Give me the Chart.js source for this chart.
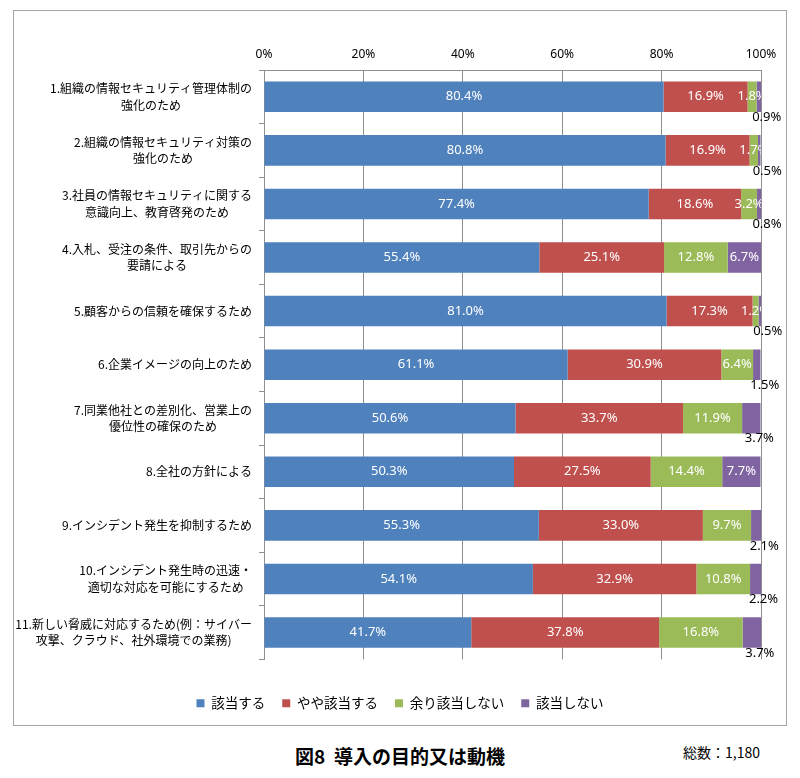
<!DOCTYPE html>
<html><head><meta charset="utf-8">
<script src="https://cdn.jsdelivr.net/npm/chart.js@4.4.0/dist/chart.umd.min.js"></script>
<style>
body{margin:0;background:#fff;width:800px;height:778px;position:relative;overflow:hidden;font-family:"Noto Sans CJK JP",sans-serif;}
#frame{position:absolute;left:13px;top:10px;width:774px;height:716px;box-sizing:border-box;border:1px solid #a6a6a6;}
#c{position:absolute;left:14px;top:11px;}
#title{position:absolute;left:0;width:800px;top:744px;text-align:center;font-weight:bold;font-size:19px;line-height:24px;color:#000;white-space:pre;}
#total{position:absolute;left:683px;top:742px;font-size:14px;line-height:20px;color:#000;}
</style>
</head><body>
<div id="frame"></div>
<canvas id="c" width="772" height="714"></canvas>
<div id="title">図8  導入の目的又は動機</div>
<div id="total">総数：1,180</div>
<script>
const categories = [
  ['1.組織の情報セキュリティ管理体制の','強化のため'],
  ['2.組織の情報セキュリティ対策の','強化のため'],
  ['3.社員の情報セキュリティに関する','意識向上、教育啓発のため'],
  ['4.入札、受注の条件、取引先からの','要請による'],
  ['5.顧客からの信頼を確保するため'],
  ['6.企業イメージの向上のため'],
  ['7.同業他社との差別化、営業上の','優位性の確保のため'],
  ['8.全社の方針による'],
  ['9.インシデント発生を抑制するため'],
  ['10.インシデント発生時の迅速・','適切な対応を可能にするため'],
  ['11.新しい脅威に対応するため(例：サイバー','攻撃、クラウド、社外環境での業務)']
];
const seriesNames = ['該当する','やや該当する','余り該当しない','該当しない'];
const applicable         = [80.4,80.8,77.4,55.4,81.0,61.1,50.6,50.3,55.3,54.1,41.7];
const somewhatApplicable = [16.9,16.9,18.6,25.1,17.3,30.9,33.7,27.5,33.0,32.9,37.8];
const rarelyApplicable   = [1.8,1.7,3.2,12.8,1.2,6.4,11.9,14.4,9.7,10.8,16.8];
const notApplicable      = [0.9,0.5,0.8,6.7,0.5,1.5,3.7,7.7,2.1,2.2,3.7];
const xTickValues = [0,20,40,60,80,100];
const seriesColors = ['#4F81BD','#C0504D','#9BBB59','#8064A2'];
const seriesValues = [applicable, somewhatApplicable, rarelyApplicable, notApplicable];

const labelPlugin = {
  id: 'segLabels',
  afterDatasetsDraw(chart) {
    const ctx = chart.ctx, area = chart.chartArea;
    ctx.save();
    ctx.font = '13px "Noto Sans", sans-serif';
    ctx.textAlign = 'center';
    ctx.textBaseline = 'middle';
    const outside = [];
    ctx.save();
    ctx.beginPath();
    ctx.rect(area.left, area.top, area.right - area.left, area.bottom - area.top);
    ctx.clip();
    chart.data.datasets.forEach((ds, di) => {
      const meta = chart.getDatasetMeta(di);
      meta.data.forEach((bar, i) => {
        const v = ds.data[i];
        const txt = v.toFixed(1) + '%';
        const cx = (bar.x + bar.base) / 2;
        if (di === 3 && v < 5) {
          outside.push([txt, cx + 8, bar.y + 20.5]);
        } else {
          ctx.fillStyle = '#ffffff';
          ctx.fillText(txt, cx, bar.y);
        }
      });
    });
    ctx.restore();
    ctx.fillStyle = '#000000';
    outside.forEach(([t, x, y]) => ctx.fillText(t, x, y));
    ctx.restore();
  }
};

const yLabelPlugin = {
  id: 'yLabels',
  afterDraw(chart) {
    const ctx = chart.ctx, ys = chart.scales.y, area = chart.chartArea;
    ctx.save();
    ctx.font = '12px "Noto Sans CJK JP", sans-serif';
    ctx.fillStyle = '#000';
    ctx.textAlign = 'center';
    ctx.textBaseline = 'middle';
    const right = area.left - 12, lh = 16.5;
    categories.forEach((lines, i) => {
      const cy = ys.getPixelForValue(i);
      const w = Math.max(...lines.map(l => ctx.measureText(l).width));
      const cx = right - w / 2;
      lines.forEach((l, j) => ctx.fillText(l, cx, cy + (j - (lines.length - 1) / 2) * lh));
    });
    ctx.restore();
  }
};

const gridColor = '#8f8f8f';
new Chart(document.getElementById('c'), {
  type: 'bar',
  data: {
    labels: categories.map(l => l.join('')),
    datasets: seriesNames.map((n, k) => ({
      label: n,
      data: seriesValues[k],
      backgroundColor: seriesColors[k],
      borderWidth: 0,
      barPercentage: 0.57,
      categoryPercentage: 1.0
    }))
  },
  options: {
    indexAxis: 'y',
    responsive: false,
    animation: false,
    devicePixelRatio: 1,
    layout: { padding: { top: 0, right: 25, bottom: 5, left: 25 } },
    scales: {
      x: {
        position: 'top',
        stacked: true,
        min: 0, max: 100,
        afterBuildTicks(s) { s.ticks = xTickValues.map(v => ({ value: v })); },
        afterFit(s) { s.height = 59; },
        grid: { color: gridColor, drawTicks: false, lineWidth: 1 },
        border: { display: true, color: gridColor },
        ticks: {
          padding: 8,
          color: '#000',
          font: { size: 12, family: '"Noto Sans", sans-serif' },
          callback: v => v + '%'
        }
      },
      y: {
        stacked: true,
        afterFit(s) { s.width = 225; },
        grid: { drawOnChartArea: false, drawTicks: true, tickLength: 5, color: gridColor, offset: true },
        border: { display: true, color: gridColor },
        ticks: { display: false }
      }
    },
    plugins: {
      tooltip: { enabled: false },
      legend: {
        position: 'bottom',
        title: { display: true, text: '', padding: { top: 19, bottom: 0 }, font: { size: 1 } },
        labels: {
          boxWidth: 8, boxHeight: 8, padding: 17, color: '#000',
          font: { size: 13.5, family: '"Noto Sans CJK JP", sans-serif' }
        }
      }
    }
  },
  plugins: [labelPlugin, yLabelPlugin]
});
</script>
</body></html>
